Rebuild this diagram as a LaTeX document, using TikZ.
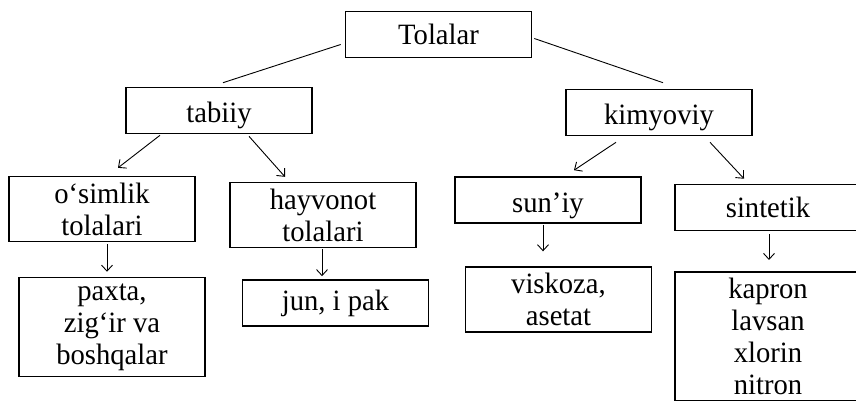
\documentclass[tikz,border=0pt]{standalone}
\usepackage{fontspec}
\setmainfont{Liberation Serif}[FakeStretch=0.97]
\usetikzlibrary{arrows.meta}

\begin{document}
\begin{tikzpicture}[x=1pt,y=-1pt,>={Straight Barb[length=6pt,width=11pt]},
    box/.style={draw,line width=1.6pt,minimum width=186pt,minimum height=46pt,
                inner ysep=6pt,align=center,font=\fontsize{29.5}{32}\selectfont},
    low/.style={text height=25pt,text depth=0pt},
    link/.style={line width=0.9pt}]
  \useasboundingbox (0,0) rectangle (856,403);
  \clip (0,0) rectangle (856,403);
  % top and second row
  \node[box] (tolalar)  at (438.5,34.5) {Tolalar};
  \node[box,low] (tabiiy)   at (219,110.5)  {tabiiy};
  \node[box,low] (kimyoviy) at (659,112.5)  {kimyoviy};
  % third row
  \node[box] (osimlik)  at (102,209)    {o‘simlik\\tolalari};
  \node[box] (hayvonot) at (323,215)    {hayvonot\\tolalari};
  \node[box,low] (suniy)    at (548,200)    {sun’iy};
  \node[box] (sintetik) at (768,207.5)  {sintetik};
  % bottom row
  \node[box] (paxta)    at (112,327)    {paxta,\\zig‘ir va\\boshqalar};
  \node[box] (jun)      at (335.5,303)  {jun, i pak};
  \node[box] (viskoza)  at (558.5,299.5) {viskoza,\\asetat};
  \node[box,anchor=north] (kapron) at (768,271) {kapron\\lavsan\\xlorin\\nitron};
  % connectors
  \draw[link] ([xshift=-4pt,yshift=-10pt]tolalar.west) -- ([xshift=4pt,yshift=4pt]tabiiy.north);
  \draw[link] ([xshift=2pt,yshift=-4pt]tolalar.east) -- ([xshift=4pt,yshift=6pt]kimyoviy.north);
  \draw[link,->] ([xshift=-59pt,yshift=-1pt]tabiiy.south) -- ([xshift=16pt,yshift=8pt]osimlik.north);
  \draw[link,->] ([xshift=30pt,yshift=-2pt]tabiiy.south) -- ([xshift=-38pt,yshift=5pt]hayvonot.north);
  \draw[link,->] ([xshift=-43pt,yshift=-6pt]kimyoviy.south) -- ([xshift=26pt,yshift=6pt]suniy.north);
  \draw[link,->] ([xshift=51pt,yshift=-6pt]kimyoviy.south) -- ([xshift=-24pt,yshift=5pt]sintetik.north);
  \draw[link,->] ([xshift=5pt,yshift=-2pt]osimlik.south) -- ([xshift=-5pt,yshift=5pt]paxta.north);
  \draw[link,->] ([xshift=-1pt,yshift=-1pt]hayvonot.south) -- ([xshift=-13.5pt,yshift=3pt]jun.north);
  \draw[link,->] ([xshift=-5pt,yshift=-1pt]suniy.south) -- ([xshift=-15.5pt,yshift=15pt]viskoza.north);
  \draw[link,->] ([xshift=1pt,yshift=-3pt]sintetik.south) -- ([xshift=1pt,yshift=11pt]kapron.north);
\end{tikzpicture}
\end{document}
